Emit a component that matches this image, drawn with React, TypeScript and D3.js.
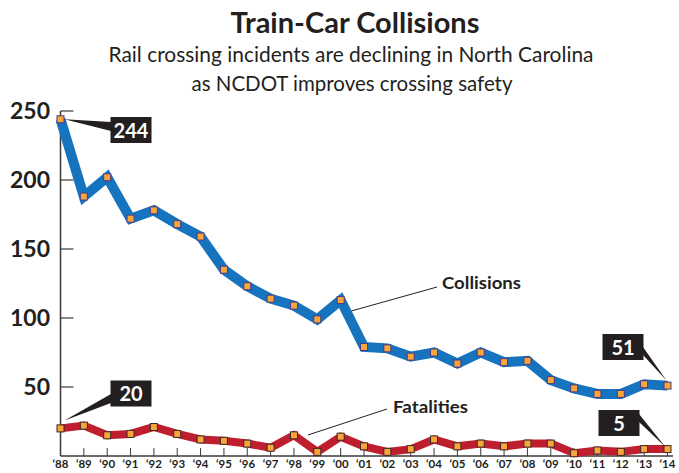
import React from "react";
import * as d3 from "d3";

const years = ["‘88","‘89","‘90","‘91","‘92","‘93","‘94","‘95","‘96","‘97","‘98","‘99","‘00","‘01","‘02","‘03","‘04","‘05","‘06","‘07","‘08","‘09","‘10","‘11","‘12","‘13","‘14"];
const collisions = [244,188,202,172,178,168,159,135,123,114,109,99,113,79,78,72,75,67,75,68,69,55,49,45,45,52,51];
const fatalities = [20,22,15,16,21,16,12,11,9,6,15,3,14,7,3,5,12,7,9,7,9,9,2,4,3,5,5];
const yTicks = [50, 100, 150, 200, 250];

const W = 679, H = 473;
const FONT = "Lato, 'Open Sans', sans-serif";

export default function App() {
  const x = d3.scaleLinear().domain([0, years.length - 1]).range([60.5, 667.5]);
  const y = d3.scaleLinear().domain([0, 250]).range([456, 111]);
  const line = d3.line<number>().x((_, i) => x(i)).y((d) => y(d));
  const axisColor = "#3a3a3a";
  const n = years.length - 1;

  const wedge = (tip: [number, number], a: [number, number], b: [number, number]) =>
    `M${tip[0]},${tip[1]}L${a[0]},${a[1]}L${b[0]},${b[1]}Z`;

  return (
    <div style={{ position: "absolute", left: 0, top: 0, width: W, height: H, overflow: "hidden" }}>
      <svg width={W} height={H} style={{ display: "block", background: "#fff" }}>
        {/* Titles */}
        <text x={355} y={33} textAnchor="middle" fontFamily={FONT} fontWeight={700} fontSize={29} fill="#231f20" textLength={249} lengthAdjust="spacingAndGlyphs">Train-Car Collisions</text>
        <text x={351} y={61.5} textAnchor="middle" fontFamily={FONT} fontSize={21.5} fill="#231f20" textLength={485} lengthAdjust="spacingAndGlyphs">Rail crossing incidents are declining in North Carolina</text>
        <text x={352} y={90.5} textAnchor="middle" fontFamily={FONT} fontSize={21.5} fill="#231f20" textLength={321} lengthAdjust="spacingAndGlyphs">as NCDOT improves crossing safety</text>

        {/* Axes */}
        <line x1={x(0)} x2={x(0)} y1={y(250)} y2={y(0)} stroke={axisColor} strokeWidth={1.5} />
        <line x1={x(0)} x2={673} y1={y(0)} y2={y(0)} stroke={axisColor} strokeWidth={1.5} />
        {yTicks.map((t) => (
          <g key={t}>
            <line x1={x(0)} x2={x(0) + 13} y1={y(t)} y2={y(t)} stroke={axisColor} strokeWidth={1.2} />
            <text x={50} y={y(t) + 8} textAnchor="end" fontFamily={FONT} fontWeight={700} fontSize={23} fill="#231f20">{t}</text>
          </g>
        ))}
        {years.map((yr, i) => (
          <g key={yr}>
            {i > 0 && <line x1={x(i)} x2={x(i)} y1={y(0)} y2={y(0) - 8} stroke={axisColor} strokeWidth={1} />}
            <text x={x(i)} y={468} textAnchor="middle" fontFamily={FONT} fontWeight={700} fontSize={11.5} fill="#231f20">{yr}</text>
          </g>
        ))}

        {/* Leader lines for series labels */}
        <line x1={x(12.3)} y1={312} x2={437} y2={287} stroke="#231f20" strokeWidth={1} />
        <text x={442} y={289} fontFamily={FONT} fontWeight={700} fontSize={17.5} fill="#231f20" textLength={79} lengthAdjust="spacingAndGlyphs">Collisions</text>
        <line x1={x(10.6)} y1={435} x2={387} y2={409} stroke="#231f20" strokeWidth={1} />
        <text x={393} y={413} fontFamily={FONT} fontWeight={700} fontSize={17.5} fill="#231f20" textLength={75} lengthAdjust="spacingAndGlyphs">Fatalities</text>

        {/* Lines */}
        <path d={line(collisions) || ""} fill="none" stroke="#1673be" strokeWidth={10} strokeLinejoin="miter" />
        <path d={line(fatalities) || ""} fill="none" stroke="#be1e2d" strokeWidth={8} strokeLinejoin="miter" />

        {/* Markers */}
        {collisions.map((v, i) => (
          <rect key={"c" + i} x={x(i) - 3.5} y={y(v) - 3.5} width={7} height={7} fill="#f9a53a" stroke="#4a3a86" strokeWidth={1} />
        ))}
        {fatalities.map((v, i) => (
          <rect key={"f" + i} x={x(i) - 3.5} y={y(v) - 3.5} width={7} height={7} fill="#f9a53a" stroke="#3a2a2a" strokeWidth={1} />
        ))}

        {/* Callouts */}
        <path d={wedge([x(0) + 4, y(collisions[0])], [111, 122], [111, 131])} fill="#231f20" />
        <rect x={110.5} y={117} width={41} height={26} fill="#231f20" />
        <text x={131} y={137.5} textAnchor="middle" fontFamily={FONT} fontWeight={700} fontSize={20} fill="#fff">{collisions[0]}</text>

        <path d={wedge([x(0) + 4, y(fatalities[0]) - 8], [111, 394], [111, 403])} fill="#231f20" />
        <rect x={110.5} y={380.5} width={41} height={26} fill="#231f20" />
        <text x={131} y={401} textAnchor="middle" fontFamily={FONT} fontWeight={700} fontSize={20} fill="#fff">{fatalities[0]}</text>

        <path d={wedge([x(n) - 1, y(collisions[n]) - 5], [643, 347], [643, 355])} fill="#231f20" />
        <rect x={602.5} y={334} width={41} height={26} fill="#231f20" />
        <text x={623} y={354.5} textAnchor="middle" fontFamily={FONT} fontWeight={700} fontSize={20} fill="#fff">{collisions[n]}</text>

        <path d={wedge([x(n) - 2, y(fatalities[n]) - 2], [639, 414], [639, 422])} fill="#231f20" />
        <rect x={598.5} y={410} width={41} height={26} fill="#231f20" />
        <text x={619} y={430.5} textAnchor="middle" fontFamily={FONT} fontWeight={700} fontSize={20} fill="#fff">{fatalities[n]}</text>
      </svg>
    </div>
  );
}
